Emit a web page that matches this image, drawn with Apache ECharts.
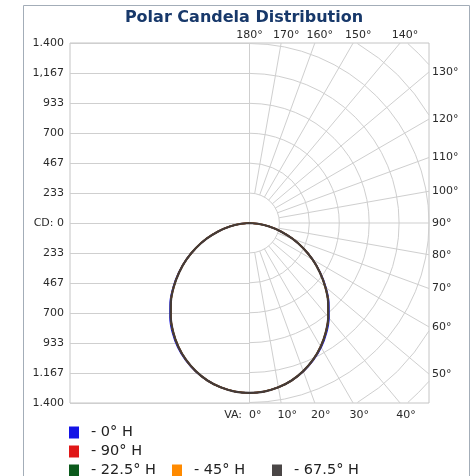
<!DOCTYPE html>
<html>
<head>
<meta charset="utf-8">
<script src="https://cdn.jsdelivr.net/npm/echarts@6/dist/echarts.min.js"></script>
<style>
html,body{margin:0;padding:0;background:#fff;}
#chart{width:473px;height:476px;}
</style>
</head>
<body>
<div id="chart"></div>
<script>
// ---- data ----
const titleText = 'Polar Candela Distribution';
const cdMax = 1400;
const cdTickLabels = ['1.400','1,167','933','700','467','233','CD: 0','233','467','700','933','1.167','1.400'];
const ringCount = 8;
const radialAngles = [10,20,30,40,50,60,70,80,90,100,110,120,130,140,150,160,170];
const topAngleLabels = [180,170,160,150,140];
const rightAngleLabels = [130,120,110,100,90,80,70,60,50];
const bottomAngleLabels = [0,10,20,30,40];

const vaAngles = [0,5,10,15,20,25,30,35,40,45,50,55,60,65,70,75,80,85,90];
const cd0H   = [1322,1316,1298,1268,1228,1178,1118,1046,964,875,777,674,569,462,357,254,157,67,0];
const cd90H  = [1322,1316,1298,1268,1226,1173,1110,1037,955,867,771,671,568,462,357,254,157,67,0];
const cd225H = [1322,1316,1298,1268,1226,1174,1111,1038,956,868,771,671,568,462,357,254,157,67,0];
const cd45H  = [1322,1316,1298,1268,1226,1173,1110,1037,955,867,771,671,568,462,357,254,157,67,0];
const cd675H = [1322,1316,1298,1268,1226,1173,1110,1037,955,867,771,670,567,461,356,253,156,66,0];

const seriesNames  = ['0° H','90° H','22.5° H','45° H','67.5° H'];
const seriesColors = ['#1414e6','#e01818','#0b5a1c','#ff8a00','#4a4646'];
const seriesValues = [cd0H, cd90H, cd225H, cd45H, cd675H];

// ---- build ----
const step = cdMax / 6;
const GRID = '#cfcfcf';
const LABEL_FONT = 'DejaVu Sans';

function loop(cds) {
  const pts = [];
  for (let i = cds.length - 1; i >= 0; i--) {
    const a = vaAngles[i] * Math.PI / 180;
    pts.push([-cds[i] * Math.sin(a), -cds[i] * Math.cos(a)]);
  }
  for (let i = 1; i < cds.length; i++) {
    const a = vaAngles[i] * Math.PI / 180;
    pts.push([cds[i] * Math.sin(a), -cds[i] * Math.cos(a)]);
  }
  return pts;
}

function crisp(v) { return Math.round(v - 0.5) + 0.5; }

function gridRender(params, api) {
  const c = api.coord([0, 0]);
  const pxR = api.coord([cdMax, 0])[0] - c[0];
  const ch = [];
  for (let k = -6; k <= 6; k++) {
    const p1 = api.coord([-cdMax, k * step]);
    const y = crisp(p1[1]);
    ch.push({type:'line', shape:{x1:p1[0], y1:y, x2:c[0], y2:y}, style:{stroke:GRID, lineWidth:1}});
  }
  const top = api.coord([0, cdMax]), bot = api.coord([0, -cdMax]);
  const vx = crisp(c[0]);
  ch.push({type:'line', shape:{x1:vx, y1:top[1], x2:vx, y2:bot[1]}, style:{stroke:GRID, lineWidth:1}});
  for (let k = 1; k <= ringCount; k++) {
    const r = k * step;
    const rp = r / cdMax * pxR;
    if (r <= cdMax + 1e-6) {
      ch.push({type:'arc', shape:{cx:c[0], cy:c[1], r:rp, startAngle:-Math.PI/2, endAngle:Math.PI/2, clockwise:true},
               style:{stroke:GRID, fill:null, lineWidth:1}});
    } else {
      const q = cdMax / r;
      const a1 = Math.acos(q), a2 = Math.asin(q);
      if (a2 > a1) {
        ch.push({type:'arc', shape:{cx:c[0], cy:c[1], r:rp, startAngle:-a2, endAngle:-a1, clockwise:true},
                 style:{stroke:GRID, fill:null, lineWidth:1}});
        ch.push({type:'arc', shape:{cx:c[0], cy:c[1], r:rp, startAngle:a1, endAngle:a2, clockwise:true},
                 style:{stroke:GRID, fill:null, lineWidth:1}});
      }
    }
  }
  radialAngles.forEach(function (deg) {
    const a = deg * Math.PI / 180;
    const sx = Math.sin(a), sy = -Math.cos(a);
    const rEnd = cdMax / Math.max(Math.abs(sx), Math.abs(sy));
    const p1 = api.coord([sx * step, sy * step]);
    const p2 = api.coord([sx * rEnd, sy * rEnd]);
    ch.push({type:'line', shape:{x1:p1[0], y1:p1[1], x2:p2[0], y2:p2[1]}, style:{stroke:GRID, lineWidth:1}});
  });
  return {type:'group', children: ch};
}

function labelRender(params, api) {
  const ch = [];
  const font = {fontSize: 11, fontFamily: LABEL_FONT, fill: '#2a2a2a'};
  function txt(x, y, s, align) {
    ch.push({type:'text', x:x, y:y, silent:true,
      style:Object.assign({text:s, align:align || 'center', verticalAlign:'middle'}, font)});
  }
  topAngleLabels.forEach(function (deg) {
    const a = deg * Math.PI / 180;
    const sx = Math.sin(a), sy = -Math.cos(a);
    const t = cdMax / Math.abs(sy);
    const p = api.coord([sx * t, cdMax]);
    txt(p[0] + (deg === 180 ? 0 : 5), p[1] - 8, deg + '°');
  });
  rightAngleLabels.forEach(function (deg) {
    const a = deg * Math.PI / 180;
    const sx = Math.sin(a), sy = -Math.cos(a);
    const t = cdMax / Math.abs(sx);
    const p = api.coord([cdMax, sy * t]);
    txt(p[0] + 3, p[1], deg + '°', 'left');
  });
  bottomAngleLabels.forEach(function (deg) {
    const a = deg * Math.PI / 180;
    const sx = Math.sin(a), sy = -Math.cos(a);
    const t = cdMax / Math.abs(sy);
    const p = api.coord([sx * t, -cdMax]);
    if (deg === 0) txt(p[0] + 12, p[1] + 12, 'VA:  0°', 'right');
    else txt(p[0] + 6, p[1] + 12, deg + '°');
  });
  return {type:'group', children: ch};
}

const chart = echarts.init(document.getElementById('chart'), null, {renderer:'canvas'});

const series = [
  {type:'custom', name:'grid', coordinateSystem:'cartesian2d', data:[[0,0]], renderItem:gridRender, silent:true, z:1},
  {type:'custom', name:'labels', coordinateSystem:'cartesian2d', data:[[0,0]], renderItem:labelRender, silent:true, clip:false, z:5}
];
seriesNames.forEach(function (n, i) {
  series.push({
    type:'line', name:n, data: loop(seriesValues[i]), showSymbol:false, symbol:'none',
    color: seriesColors[i], smooth: 0.2,
    lineStyle:{color: i === 4 ? '#433a38' : seriesColors[i], width: i === 4 ? 2.2 : 1.6}, z: 3 + i * 0.1, silent:true
  });
});

const legendPos = [[69,425],[69,444],[69,463],[172,463],[272,463]];
const legends = seriesNames.map(function (n, i) {
  return {
    data:[n], left:legendPos[i][0], top:legendPos[i][1], icon:'rect',
    itemWidth:10, itemHeight:12, selectedMode:false, padding:0,
    formatter: function (name) { return '- ' + name; },
    textStyle:{fontSize:14.5, fontFamily:LABEL_FONT, color:'#222', padding:[0,0,0,7]}
  };
});

chart.setOption({
  animation:false,
  backgroundColor:'#fff',
  grid:{left:70, top:43, width:359, height:360, show:true, borderColor:'#c4c4c4', borderWidth:1, backgroundColor:'#fff'},
  xAxis:{type:'value', min:-cdMax, max:cdMax, show:false},
  yAxis:{type:'value', min:-cdMax, max:cdMax, interval:step,
    axisLine:{show:false}, axisTick:{show:false}, splitLine:{show:false},
    axisLabel:{margin:6, fontSize:11, fontFamily:LABEL_FONT, color:'#2a2a2a',
      formatter:function (v) { const idx = Math.round((cdMax - v) / step); return cdTickLabels[idx] || ''; }}},
  legend: legends,
  graphic:[
    {type:'rect', shape:{x:23.5, y:5.5, width:446, height:480}, style:{stroke:'#a3adb8', fill:null, lineWidth:1}, silent:true, z:-10},
    {type:'text', x:244, y:18, style:{text:titleText, fontSize:16, fontWeight:'bold', fontFamily:LABEL_FONT, fill:'#17386a', align:'center', verticalAlign:'middle'}, silent:true}
  ],
  series: series
});
</script>
</body>
</html>
